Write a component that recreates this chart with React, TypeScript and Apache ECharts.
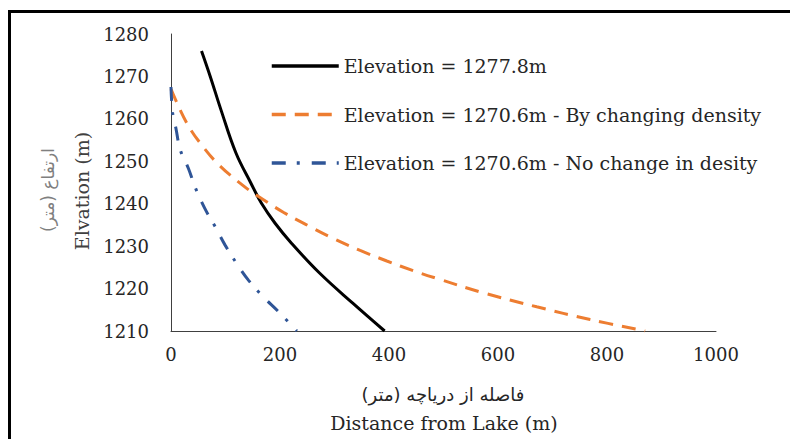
import React, { useEffect, useRef } from "react";
import * as echarts from "echarts";

const xTicks = [0, 200, 400, 600, 800, 1000];
const yTicks = [1210, 1220, 1230, 1240, 1250, 1260, 1270, 1280];

const seriesNames = [
  "Elevation = 1277.8m",
  "Elevation = 1270.6m - By changing density",
  "Elevation = 1270.6m - No change in desity",
];

const blackX = [56, 72, 92, 119, 146, 166, 191, 221, 273, 334, 392];
const blackY = [1276, 1270, 1262, 1252, 1245, 1240.1, 1235.4, 1230.7, 1223.6, 1216.5, 1210];

const orangeX = [0, 29, 59, 90, 133, 157, 206, 255, 298, 347, 396, 445, 490, 573, 671, 769, 870];
const orangeY = [1267, 1259, 1253.4, 1248.9, 1244.2, 1242, 1238, 1234.6, 1231.8, 1229, 1226.5, 1224.2, 1222.3, 1219, 1215.7, 1212.7, 1210];

const blueX = [0, 3, 9, 17, 32, 44, 62, 81, 99, 120, 142, 169, 197, 231];
const blueY = [1267.5, 1261.4, 1257.8, 1252.7, 1248.3, 1244, 1238.9, 1234.6, 1230.3, 1226, 1222, 1218.1, 1214.6, 1210];

const yTitleEn = "Elvation (m)";
const yTitleFa = "ارتفاع (متر)";
const xTitleEn = "Distance from Lake (m)";
const xTitleFa = "فاصله از دریاچه (متر)";

const serif = "DejaVu Serif";
const arabic = "DejaVu Sans";

const zip = (xs: number[], ys: number[]) => xs.map((x, i) => [x, ys[i]]);

export default function App() {
  const ref = useRef<HTMLDivElement>(null);
  useEffect(() => {
    if (!ref.current) return;
    const chart = echarts.init(ref.current, null, { renderer: "svg" });
    chart.setOption({
      animation: false,
      backgroundColor: "#fff",
      grid: { left: 171, right: 74, top: 34, bottom: 108, containLabel: false },
      xAxis: {
        type: "value",
        min: xTicks[0],
        max: xTicks[xTicks.length - 1],
        interval: 200,
        axisLine: { show: true, lineStyle: { color: "#404040", width: 1 } },
        axisTick: { show: false },
        splitLine: { show: false },
        axisLabel: {
          color: "#262626",
          fontSize: 18,
          fontFamily: serif,
          margin: 14,
          formatter: (v: number) => String(v),
        },
      },
      yAxis: {
        type: "value",
        min: yTicks[0],
        max: yTicks[yTicks.length - 1],
        interval: 10,
        axisLine: { show: true, lineStyle: { color: "#404040", width: 1 } },
        axisTick: { show: false },
        splitLine: { show: false },
        axisLabel: {
          color: "#262626",
          fontSize: 18,
          fontFamily: serif,
          margin: 22,
          formatter: (v: number) => String(v),
        },
      },
      legend: {
        orient: "vertical",
        left: 265,
        top: 49,
        itemWidth: 67,
        itemHeight: 14,
        itemGap: 24.5,
        itemStyle: { opacity: 0 },
        lineStyle: { width: 3.5 },
        textStyle: { fontSize: 19, fontFamily: serif, color: "#262626", lineHeight: 24 },
        data: seriesNames,
      },
      series: [
        {
          name: seriesNames[0],
          type: "line",
          data: zip(blackX, blackY),
          smooth: 0.4,
          symbol: "none",
          lineStyle: { color: "#000", width: 3 },
          itemStyle: { color: "#000" },
        },
        {
          name: seriesNames[1],
          type: "line",
          data: zip(orangeX, orangeY),
          smooth: 0.4,
          symbol: "none",
          lineStyle: { color: "#ED7D31", width: 3, type: [14, 9] },
          itemStyle: { color: "#ED7D31" },
        },
        {
          name: seriesNames[2],
          type: "line",
          data: zip(blueX, blueY),
          smooth: 0.4,
          symbol: "none",
          lineStyle: { color: "#2F5597", width: 3, type: [14, 11, 3, 12] },
          itemStyle: { color: "#2F5597" },
        },
      ],
      graphic: [
        {
          type: "rect",
          shape: { x: 9.5, y: 11.5, width: 820, height: 460 },
          style: { fill: "none", stroke: "#000", lineWidth: 3 },
          silent: true,
        },
        {
          type: "text",
          x: 82,
          y: 191,
          rotation: Math.PI / 2,
          style: {
            text: yTitleEn,
            fontSize: 19,
            fontFamily: serif,
            fill: "#404040",
            align: "center",
            verticalAlign: "middle",
          },
        },
        {
          type: "text",
          x: 48,
          y: 190,
          rotation: Math.PI / 2,
          style: {
            text: yTitleFa,
            fontSize: 17,
            fontFamily: arabic,
            fill: "#7f7f7f",
            align: "center",
            verticalAlign: "middle",
          },
        },
        {
          type: "text",
          x: 443,
          y: 394,
          style: {
            text: xTitleFa,
            fontSize: 18,
            fontFamily: arabic,
            fill: "#262626",
            align: "center",
            verticalAlign: "middle",
          },
        },
        {
          type: "text",
          x: 444,
          y: 423,
          style: {
            text: xTitleEn,
            fontSize: 19,
            fontFamily: serif,
            fill: "#262626",
            align: "center",
            verticalAlign: "middle",
          },
        },
      ],
    });
    return () => chart.dispose();
  }, []);
  return (
    <div
      ref={ref}
      style={{ position: "absolute", left: 0, top: 0, width: 790, height: 439 }}
    />
  );
}
